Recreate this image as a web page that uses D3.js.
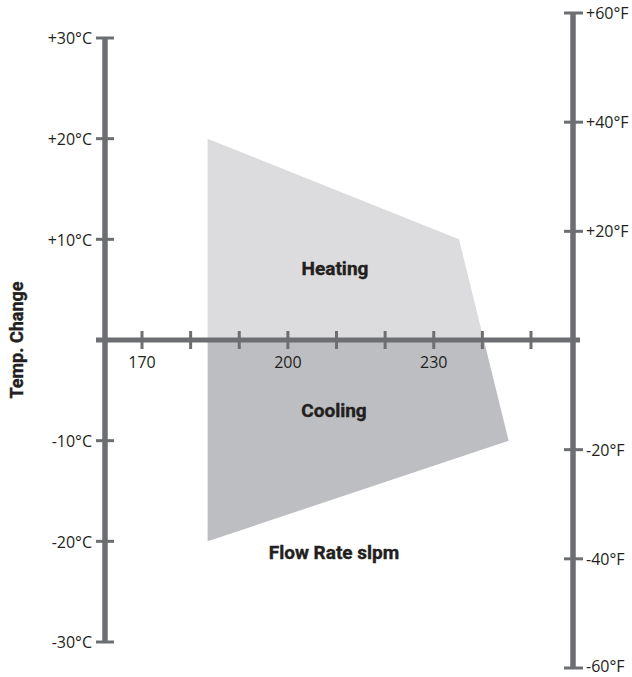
<!DOCTYPE html>
<html>
<head>
<meta charset="utf-8">
<title>Temp. Change vs Flow Rate</title>
<style>
  body { margin: 0; background: #fff; }
  svg { display: block; }
  .tick-label { font-family: 'Open Sans', sans-serif; font-size: 16px; fill: #231f20; }
  .title { font-family: Roboto, sans-serif; font-weight: 700; font-size: 19px; fill: #231f20; stroke: #231f20; stroke-width: 0.4px; }
</style>
</head>
<body>
<svg width="632" height="677"></svg>
<script src="https://d3js.org/d3.v7.min.js"></script>
<script>
// data
let celsiusTicks = [30, 20, 10, -10, -20, -30]
let fahrenheitTicks = [60, 40, 20, -20, -40, -60]
let flowTicks = [170, 180, 190, 200, 210, 220, 230, 240, 250]
let flowLabels = [170, 200, 230]

// operating envelope, split at 0 degC
let heatingFlow = [183.5, 183.5, 235.2, 240.3]
let heatingTemp = [0, 20, 10, 0]
let coolingFlow = [183.5, 240.3, 245.4, 183.5]
let coolingTemp = [0, 0, -10, -20]

let axisColor = "#6d6e71"
let svg = d3.select("svg")

let x = d3.scaleLinear().domain([170, 250]).range([142, 531])
let yC = d3.scaleLinear().domain([-30, 30]).range([642, 38])
let yF = d3.scaleLinear().domain([-60, 60]).range([668, 13])

let leftX = 105, rightX = 573

// regions
let line = d3.line().x(d => x(d[0])).y(d => yC(d[1]))
svg.append("path")
  .attr("d", line(d3.zip(heatingFlow, heatingTemp)) + "Z")
  .attr("fill", "#dcdcde")
svg.append("path")
  .attr("d", line(d3.zip(coolingFlow, coolingTemp)) + "Z")
  .attr("fill", "#bdbec1")

// left axis (Celsius)
let yAxisL = d3.axisLeft(yC)
  .tickValues(celsiusTicks)
  .tickSize(0)
  .tickFormat(d => (d > 0 ? "+" : "") + d + "°C")
let gL = svg.append("g").attr("transform", `translate(${leftX},0)`).call(yAxisL)
gL.select(".domain").remove()
gL.selectAll(".tick line").remove()
gL.selectAll(".tick text").attr("class", "tick-label").attr("x", -13).attr("dy", "0.36em")
svg.append("line")
  .attr("x1", leftX).attr("x2", leftX)
  .attr("y1", yC(30)).attr("y2", yC(-30))
  .attr("stroke", axisColor).attr("stroke-width", 5.5)
svg.selectAll(".ltick").data(celsiusTicks).join("line")
  .attr("x1", leftX - 9).attr("x2", leftX + 9)
  .attr("y1", d => yC(d)).attr("y2", d => yC(d))
  .attr("stroke", axisColor).attr("stroke-width", 3)

// right axis (Fahrenheit)
let yAxisR = d3.axisRight(yF)
  .tickValues(fahrenheitTicks)
  .tickSize(0)
  .tickFormat(d => (d > 0 ? "+" : "") + d + "°F")
let gR = svg.append("g").attr("transform", `translate(${rightX},0)`).call(yAxisR)
gR.select(".domain").remove()
gR.selectAll(".tick line").remove()
gR.selectAll(".tick text").attr("class", "tick-label").attr("x", 13)
  .attr("dy", d => d === -60 ? "0.2em" : "0.34em")
svg.append("line")
  .attr("x1", rightX).attr("x2", rightX)
  .attr("y1", yF(60)).attr("y2", yF(-60))
  .attr("stroke", axisColor).attr("stroke-width", 5.5)
svg.selectAll(".rtick").data(fahrenheitTicks).join("line")
  .attr("x1", rightX - 9).attr("x2", rightX + 10)
  .attr("y1", d => yF(d)).attr("y2", d => yF(d))
  .attr("stroke", axisColor).attr("stroke-width", 3)

// x axis at 0 degC
let y0 = yC(0)
svg.append("line")
  .attr("x1", 96).attr("x2", 580)
  .attr("y1", y0).attr("y2", y0)
  .attr("stroke", axisColor).attr("stroke-width", 5)
svg.selectAll(".xtick").data(flowTicks).join("line")
  .attr("x1", d => x(d)).attr("x2", d => x(d))
  .attr("y1", y0 - 9).attr("y2", y0 + 9)
  .attr("stroke", axisColor).attr("stroke-width", 3)
svg.selectAll(".xlabel").data(flowLabels).join("text")
  .attr("class", "tick-label")
  .attr("x", d => x(d)).attr("y", y0 + 28)
  .attr("text-anchor", "middle")
  .text(d => d)

// titles
svg.append("text").attr("class", "title")
  .attr("x", 335).attr("y", 275).attr("text-anchor", "middle").text("Heating")
svg.append("text").attr("class", "title")
  .attr("x", 334).attr("y", 417).attr("text-anchor", "middle").text("Cooling")
svg.append("text").attr("class", "title")
  .attr("x", 334).attr("y", 559).attr("text-anchor", "middle").text("Flow Rate slpm")
svg.append("text").attr("class", "title")
  .style("font-size", "18px")
  .attr("transform", `translate(23,${y0}) rotate(-90)`)
  .attr("text-anchor", "middle").text("Temp. Change")
</script>
</body>
</html>
